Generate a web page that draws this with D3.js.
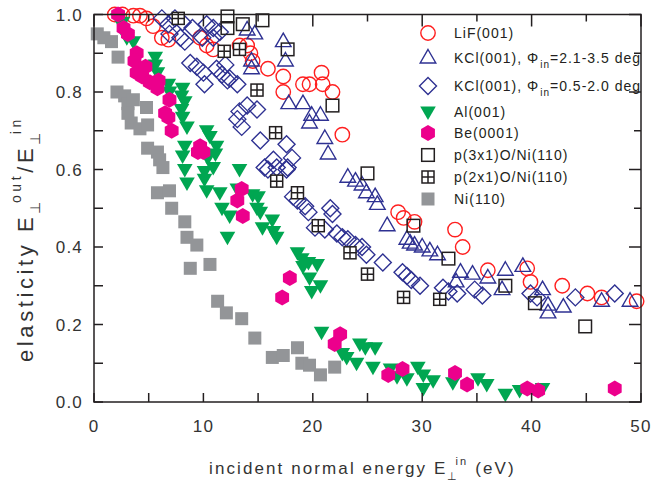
<!DOCTYPE html>
<html>
<head>
<meta charset="utf-8">
<script src="https://cdn.jsdelivr.net/npm/d3@7"></script>
<style>
  body { margin: 0; background: #fff; }
  svg { display: block; }
  text { font-family: "Liberation Sans", Arial, sans-serif; }
</style>
</head>
<body>
<svg id="chart" width="653" height="482"></svg>
<script>
// ---- data ----
const lif = [[1.9,1.0],[2.6,1.0],[3.6,0.997],[4.2,0.997],[4.8,0.99],[5.4,0.97],[6.2,0.94],[6.8,0.935],
  [9.7,0.94],[10.3,0.92],[10.9,0.91],[13.3,0.92],[14.0,0.92],[14.3,0.9],[14.5,0.88],[15.9,0.86],
  [17.3,0.84],[17.3,0.8],[19.1,0.82],[19.7,0.82],[20.8,0.85],[20.9,0.82],[21.8,0.8],[22.7,0.69],
  [27.8,0.49],[28.3,0.475],[29.3,0.465],[33.0,0.445],[33.7,0.4],[36.0,0.34],[39.6,0.345],[39.9,0.31],
  [42.8,0.3],[45.1,0.28],[46.4,0.27],[49.6,0.26]];

const kclHigh = [[14.0,0.96],[14.7,0.95],[14.4,0.88],[14.4,0.86],[17.3,0.93],[17.5,0.88],[17.8,0.77],
  [19.1,0.77],[19.9,0.74],[19.7,0.72],[20.7,0.74],[21.1,0.68],[21.4,0.64],[23.2,0.58],[23.9,0.57],
  [24.5,0.56],[24.9,0.54],[25.7,0.53],[25.9,0.51],[26.8,0.455],[28.6,0.42],[28.9,0.41],[29.3,0.405],
  [30.0,0.4],[30.7,0.39],[31.4,0.38],[33.5,0.335],[34.6,0.33],[33.1,0.31],[36.0,0.32],[37.3,0.29],
  [37.6,0.34],[39.2,0.35],[41.0,0.29],[41.5,0.25],[41.5,0.23],[42.9,0.245],[46.4,0.26],[49.0,0.26]];

const kclLow = [[6.2,0.99],[6.8,0.975],[7.4,0.99],[8.1,0.98],[6.9,0.95],[7.9,0.94],[8.3,0.93],[9.0,0.965],
  [10.3,0.975],[10.9,0.965],[11.5,0.955],[9.9,0.94],[10.9,0.94],[8.8,0.875],[9.4,0.865],[10.0,0.85],
  [10.1,0.82],[11.2,0.86],[12.0,0.87],[11.7,0.845],[12.4,0.835],[13.1,0.82],[12.2,0.83],[13.3,0.75],
  [14.0,0.765],[14.9,0.755],[13.1,0.73],[13.5,0.71],[15.2,0.675],[17.6,0.665],[16.4,0.625],[16.7,0.605],
  [15.9,0.6],[17.6,0.6],[15.6,0.605],[17.7,0.605],[18.1,0.63],[18.2,0.53],[18.6,0.52],[19.3,0.505],
  [19.6,0.49],[20.2,0.45],[21.1,0.445],[21.6,0.5],[21.8,0.485],[22.2,0.435],[22.7,0.425],[23.2,0.42],
  [23.9,0.405],[24.5,0.4],[24.9,0.38],[26.4,0.36],[28.2,0.335],[28.6,0.325],[29.0,0.315],[29.8,0.3],
  [31.9,0.295],[32.4,0.285],[33.2,0.28],[34.8,0.29],[35.5,0.275],[39.9,0.28],[40.5,0.27],[44.0,0.27],
  [47.6,0.28]];

const al = [[2.2,0.99],[2.6,0.98],[3.0,0.94],[3.6,0.93],[5.6,0.89],[5.6,0.87],[5.8,0.85],[6.8,0.82],
  [6.9,0.8],[8.1,0.81],[8.0,0.79],[8.3,0.775],[8.0,0.755],[8.1,0.735],[8.5,0.71],[10.3,0.7],[10.6,0.685],
  [11.2,0.66],[11.1,0.64],[10.4,0.63],[8.3,0.66],[8.1,0.635],[10.9,0.605],[8.3,0.6],[10.1,0.595],
  [10.1,0.575],[8.5,0.565],[10.3,0.545],[11.5,0.54],[11.7,0.5],[12.4,0.48],[12.2,0.425],[13.3,0.6],
  [13.1,0.55],[14.5,0.535],[14.9,0.5],[15.0,0.53],[15.2,0.49],[15.4,0.45],[16.3,0.47],[16.4,0.44],
  [16.7,0.425],[18.6,0.385],[19.0,0.37],[19.1,0.35],[19.6,0.36],[20.4,0.355],[19.7,0.32],[19.9,0.285],
  [20.7,0.3],[20.8,0.18],[22.7,0.125],[23.1,0.115],[24.3,0.15],[24.8,0.14],[25.7,0.14],[24.0,0.1],
  [25.5,0.09],[27.1,0.085],[27.7,0.065],[28.6,0.06],[29.6,0.09],[30.1,0.07],[30.1,0.035],[31.0,0.055],
  [32.8,0.05],[35.1,0.06],[35.9,0.045],[37.6,0.02],[38.9,0.03],[41.0,0.035]];

const be = [[2.2,1.0],[2.7,0.965],[3.1,0.95],[3.9,0.9],[3.7,0.88],[3.9,0.85],[4.4,0.84],[4.7,0.865],
  [5.1,0.825],[5.8,0.81],[5.9,0.83],[6.9,0.78],[6.5,0.745],[6.8,0.735],[7.1,0.7],[9.7,0.66],[10.0,0.645],
  [9.5,0.645],[13.5,0.55],[13.1,0.52],[13.6,0.48],[17.9,0.32],[17.2,0.27],[22.5,0.175],[22.0,0.15],
  [26.9,0.07],[28.2,0.085],[33.0,0.075],[34.1,0.045],[39.6,0.035],[40.6,0.03],[47.6,0.035]];

const p3x1 = [[12.2,0.995],[12.2,0.965],[13.6,0.975],[15.4,0.985],[17.7,0.91],[21.8,0.765],[25.0,0.59],
  [29.2,0.455],[32.4,0.37],[37.6,0.3],[40.3,0.255],[44.9,0.195]];

const p2x1 = [[7.7,0.99],[11.9,0.905],[13.3,0.91],[14.9,0.805],[16.6,0.695],[16.7,0.57],[18.6,0.54],
  [20.5,0.455],[23.4,0.385],[25.0,0.33],[28.3,0.27],[31.6,0.265]];

const ni = [[0.3,0.95],[0.9,0.94],[1.6,0.93],[2.2,0.89],[2.1,0.8],[2.8,0.79],[3.1,0.77],[3.6,0.78],
  [3.1,0.745],[3.4,0.72],[4.2,0.705],[4.9,0.715],[4.8,0.76],[4.9,0.655],[5.8,0.645],[6.0,0.625],
  [6.3,0.605],[5.8,0.54],[6.9,0.545],[7.1,0.5],[8.3,0.465],[8.5,0.425],[9.4,0.405],[8.8,0.345],
  [10.6,0.355],[11.3,0.26],[12.1,0.23],[13.5,0.215],[14.7,0.165],[16.3,0.115],[17.3,0.12],[18.6,0.14],
  [19.0,0.1],[19.7,0.095],[20.7,0.07],[22.0,0.09]];

const xTicks = [0, 10, 20, 30, 40, 50];
const yTicks = [0.0, 0.2, 0.4, 0.6, 0.8, 1.0];

// ---- layout ----
const svg = d3.select("#chart");
const plotL = 94, plotR = 641, plotT = 14.5, plotB = 402;

const x = d3.scaleLinear().domain([0, 50]).range([plotL, plotR]);
const y = d3.scaleLinear().domain([0, 1]).range([plotB, plotT]);

const blue = "#2e3192", red = "#ff1f1f", green = "#00a651", pink = "#ec008c", gray = "#939598", ink = "#231f20";

// marker shapes
const shapes = {
  circle: g => g.append("circle").attr("r", 7.2).attr("fill", "none").attr("stroke", red).attr("stroke-width", 1.4),
  up: g => g.append("path").attr("d", "M0,-8.5L7.8,5L-7.8,5Z").attr("fill", "none").attr("stroke", blue).attr("stroke-width", 1.4),
  diamond: g => g.append("path").attr("d", "M0,-8.5L8.5,0L0,8.5L-8.5,0Z").attr("fill", "none").attr("stroke", blue).attr("stroke-width", 1.4),
  down: g => g.append("path").attr("d", "M-7.8,-5.5L7.8,-5.5L0,8Z").attr("fill", green),
  hex: g => {
    const pts = d3.range(6).map(i => { const a = Math.PI / 3 * i - Math.PI / 2; return [8 * Math.cos(a), 8 * Math.sin(a)]; });
    return g.append("path").attr("d", "M" + pts.join("L") + "Z").attr("fill", pink);
  },
  square: g => g.append("rect").attr("x", -6.3).attr("y", -6.3).attr("width", 12.6).attr("height", 12.6)
    .attr("fill", "none").attr("stroke", ink).attr("stroke-width", 1.5),
  cross: g => {
    g.append("rect").attr("x", -6).attr("y", -6).attr("width", 12).attr("height", 12)
      .attr("fill", "#fff").attr("stroke", ink).attr("stroke-width", 1.5);
    g.append("path").attr("d", "M0,-6V6M-6,0H6").attr("stroke", ink).attr("stroke-width", 1.5);
  },
  filled: g => g.append("rect").attr("x", -6.5).attr("y", -6.5).attr("width", 13).attr("height", 13).attr("fill", gray)
};

const series = [
  { data: lif, shape: "circle", label: ["LiF(001)"] },
  { data: kclHigh, shape: "up", label: ["KCl(001), \u03A6", "in", "=2.1-3.5 deg"] },
  { data: kclLow, shape: "diamond", label: ["KCl(001), \u03A6", "in", "=0.5-2.0 deg"] },
  { data: al, shape: "down", label: ["Al(001)"] },
  { data: be, shape: "hex", label: ["Be(0001)"] },
  { data: p3x1, shape: "square", label: ["p(3x1)O/Ni(110)"] },
  { data: p2x1, shape: "cross", label: ["p(2x1)O/Ni(110)"] },
  { data: ni, shape: "filled", label: ["Ni(110)"] }
];

// points
series.forEach(s => {
  const gs = svg.append("g").selectAll("g").data(s.data).enter().append("g")
    .attr("transform", d => `translate(${x(d[0])},${y(d[1])})`);
  gs.each(function() { shapes[s.shape](d3.select(this)); });
});

// frame
svg.append("rect").attr("x", plotL).attr("y", plotT).attr("width", plotR - plotL).attr("height", plotB - plotT)
  .attr("fill", "none").attr("stroke", ink).attr("stroke-width", 1.5);

// ticks
const ticks = svg.append("g").attr("stroke", ink).attr("stroke-width", 1.5);
d3.range(0, 51, 5).forEach(v => {
  ticks.append("line").attr("x1", x(v)).attr("x2", x(v)).attr("y1", plotB).attr("y2", plotB - 9);
  const len = v % 10 === 0 ? 12 : 7;
  ticks.append("line").attr("x1", x(v)).attr("x2", x(v)).attr("y1", plotT).attr("y2", plotT + len);
});
d3.range(0, 11).forEach(i => {
  const v = i / 10;
  ticks.append("line").attr("x1", plotL).attr("x2", plotL + 9).attr("y1", y(v)).attr("y2", y(v));
  const len = i % 2 === 0 ? 12 : 7;
  ticks.append("line").attr("x1", plotR).attr("x2", plotR - len).attr("y1", y(v)).attr("y2", y(v));
});

// tick labels
svg.append("g").selectAll("text").data(xTicks).enter().append("text")
  .attr("x", d => x(d)).attr("y", 432).attr("text-anchor", "middle")
  .attr("font-size", 17).attr("letter-spacing", 1.2).attr("fill", "#333")
  .text(d => d);
svg.append("g").selectAll("text").data(yTicks).enter().append("text")
  .attr("x", 83).attr("y", d => y(d) + 6).attr("text-anchor", "end")
  .attr("font-size", 17).attr("letter-spacing", 1.2).attr("fill", "#333")
  .text(d => d.toFixed(1));

// axis titles
const xt = svg.append("text").attr("x", 209).attr("y", 474)
  .attr("font-size", 17).attr("letter-spacing", 2.1).attr("fill", "#333");
xt.append("tspan").text("incident normal energy E");
xt.append("tspan").attr("font-size", 11).attr("dy", 6).attr("dx", 0).text("\u22A5");
xt.append("tspan").attr("font-size", 11).attr("dy", -15).attr("dx", -4).text("in");
xt.append("tspan").attr("dy", 9).text(" (eV)");

const yt = svg.append("text").attr("transform", "translate(33,362) rotate(-90)")
  .attr("font-size", 22).attr("letter-spacing", 3.6).attr("fill", "#333");
yt.append("tspan").text("elasticity E");
yt.append("tspan").attr("font-size", 14).attr("dy", 7).attr("dx", 0).text("\u22A5");
yt.append("tspan").attr("font-size", 14).attr("dy", -19).attr("dx", -5).text("out");
yt.append("tspan").attr("dy", 12).text("/E");
yt.append("tspan").attr("font-size", 14).attr("dy", 7).attr("dx", 0).text("\u22A5");
yt.append("tspan").attr("font-size", 14).attr("dy", -19).attr("dx", -5).text("in");

// legend
const legendY = [33, 58, 86, 112, 133, 155, 177, 199];
series.forEach((s, i) => {
  const g = svg.append("g").attr("transform", `translate(428,${legendY[i]})`);
  shapes[s.shape](g);
  const t = svg.append("text").attr("x", 454).attr("y", legendY[i] + 5).attr("font-size", 14)
    .attr("letter-spacing", 1).attr("fill", ink);
  t.append("tspan").text(s.label[0]);
  if (s.label.length > 1) {
    t.append("tspan").attr("font-size", 10).attr("dy", 5).attr("dx", 1).text(s.label[1]);
    t.append("tspan").attr("dy", -5).text(s.label[2]);
  }
});
</script>
</body>
</html>
